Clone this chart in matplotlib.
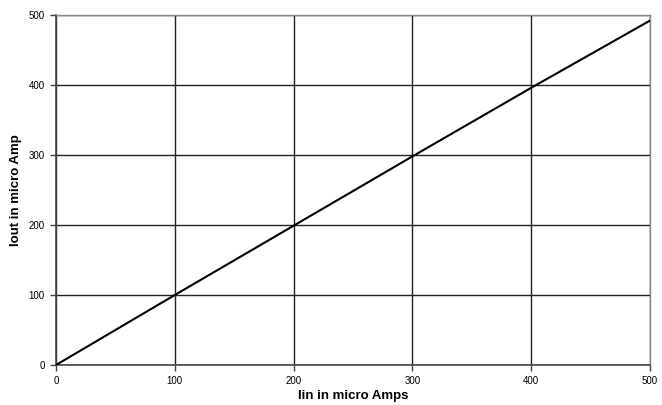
import matplotlib
matplotlib.use('Agg')
import matplotlib.pyplot as plt

# data
iin = [0, 100, 200, 300, 400, 500]
iout = [0, 100, 199, 298, 396, 492]
ticks = [0, 100, 200, 300, 400, 500]

plt.rcParams['font.family'] = ['Liberation Sans', 'DejaVu Sans']

fig = plt.figure(figsize=(6.62, 4.05), dpi=100)
ax = fig.add_axes([56 / 662, 40 / 405, 594 / 662, 350 / 405])

ax.plot(iin, iout, color='black', linewidth=1.5, zorder=3)

ax.set_xlim(0, 500)
ax.set_ylim(0, 500)
ax.set_xticks(ticks)
ax.set_yticks(ticks)
ax.grid(True, color='#222222', linewidth=1.0)
ax.set_axisbelow(True)

for s in ['left', 'bottom']:
    ax.spines[s].set_color('#444444')
    ax.spines[s].set_linewidth(1.2)
for s in ['top', 'right']:
    ax.spines[s].set_color('#888888')
    ax.spines[s].set_linewidth(1.0)

ax.tick_params(direction='out', length=4, width=1, color='#444444', labelsize=7, pad=4)

ax.set_xlabel('Iin in micro Amps', fontsize=9.5, fontweight='bold', labelpad=3)
ax.set_ylabel('Iout in micro Amp', fontsize=9.5, fontweight='bold', labelpad=5)

fig.savefig('out.png', dpi=100)
